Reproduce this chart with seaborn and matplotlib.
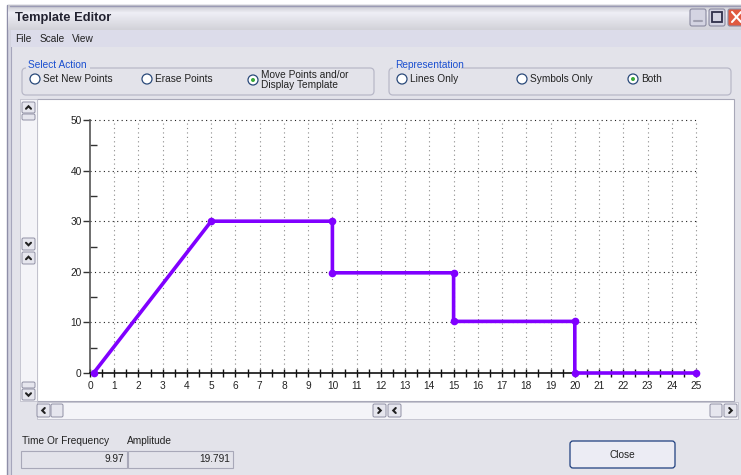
import numpy as np
import pandas as pd
import matplotlib
matplotlib.use("Agg")
import matplotlib.pyplot as plt
from matplotlib.patches import Rectangle, Circle, FancyBboxPatch
from matplotlib.ticker import MultipleLocator
import seaborn as sns

# ---- data ----
time_values = [0.15, 5, 10, 10, 15, 15, 20, 20, 25]
amplitude_values = [0, 30, 30, 19.8, 19.8, 10.2, 10.2, 0, 0]
x_tick_labels = [str(i) for i in range(0, 26)]
y_tick_labels = ["0", "10", "20", "30", "40", "50"]
readout_time = "9.97"
readout_amplitude = "19.791"

sns.set_theme(style="white")
plt.rcParams['font.family'] = ['Liberation Sans', 'DejaVu Sans']

W, H = 741, 475
fig = plt.figure(figsize=(W / 100, H / 100), dpi=100)

# background "window" axes in pixel coordinates
bg = fig.add_axes([0, 0, 1, 1])
bg.set_xlim(0, W)
bg.set_ylim(H, 0)
bg.axis("off")
bg.set_zorder(0)

def rect(x0, y0, x1, y1, fc, ec="none", lw=0.8, z=1):
    bg.add_patch(Rectangle((x0, y0), x1 - x0, y1 - y0, facecolor=fc, edgecolor=ec, lw=lw, zorder=z))

# outer white margin
rect(0, 0, W, H, "white", z=0)
# window body with double left border
rect(7, 5, W + 2, H + 2, "#D6D6E2", ec="#8E8EA8", lw=1.0, z=0.5)
rect(11, 30, W + 2, H + 2, "#E3E3EA", ec="#A6A6BC", lw=0.8, z=0.6)
# title bar gradient
grad = np.concatenate([np.linspace(0.80, 0.96, 8), np.linspace(0.96, 0.85, 17)])
img = np.stack([grad * 0.97, grad * 0.97, grad * 1.0], axis=-1)[:, None, :]
img = np.clip(img, 0, 1)
bg.imshow(np.repeat(img, 2, axis=1), extent=(8, W, 30, 5), aspect="auto", zorder=1)
bg.plot([10, W], [5.5, 5.5], color="#9A9AB4", lw=1, zorder=2)
bg.text(15, 18, "Template Editor", fontsize=9.3, fontweight="bold", color="#222230", va="center", zorder=3)
# title buttons
for x0, fc in [(690, "#D4D4E2"), (709, "#D4D4E2"), (728, "#E05A40")]:
    bg.add_patch(FancyBboxPatch((x0, 9), 16, 17, boxstyle="round,pad=0,rounding_size=2",
                                facecolor=fc, edgecolor="#8A8AA0", lw=0.8, zorder=3))
bg.plot([694, 702], [21, 21], color="#A0A0B0", lw=1.5, zorder=4)
bg.add_patch(Rectangle((712, 12), 10, 10, facecolor="none", edgecolor="#30304A", lw=1.3, zorder=4))
bg.plot([732, 741], [12, 22], color="white", lw=1.5, zorder=4)
bg.plot([732, 741], [22, 12], color="white", lw=1.5, zorder=4)

# menu bar
rect(11, 30, W, 47, "#DCDCEA", z=1)
for x, t in [(15, "File"), (40, "Scale"), (72, "View")]:
    bg.text(x, 38.5, t, fontsize=7.3, color="#222", va="center", zorder=3)

# group boxes
def group(x0, x1, title):
    bg.add_patch(FancyBboxPatch((x0, 68), x1 - x0, 27, boxstyle="round,pad=0,rounding_size=4",
                                facecolor="none", edgecolor="#B8B8C8", lw=0.9, zorder=2))
    tw = len(title) * 4.6
    rect(x0 + 4, 64, x0 + 8 + tw, 72, "#E3E3EA", z=2.5)
    bg.text(x0 + 6, 65, title, fontsize=7.3, color="#1A4FD0", va="center", zorder=3)

group(22, 374, "Select Action")
group(389, 731, "Representation")

def radio(x, y, label, sel=False):
    bg.add_patch(Circle((x, y), 5, facecolor="white", edgecolor="#2A4A7A", lw=0.9, zorder=3))
    if sel:
        bg.add_patch(Circle((x, y), 2, facecolor="#3AAA3A", edgecolor="none", zorder=4))
    bg.text(x + 8, y + 0.5, label, fontsize=7.3, color="#222", va="center", zorder=3, linespacing=1.0)

radio(35, 79, "Set New Points")
radio(147, 79, "Erase Points")
radio(253, 80, "Move Points and/or\nDisplay Template", sel=True)
radio(402, 79, "Lines Only")
radio(522, 79, "Symbols Only")
radio(633, 79, "Both", sel=True)

# plot panel
rect(37, 99, 734, 401, "white", ec="#A8A8B8", lw=0.8, z=1)
# vertical scrollbar
rect(20, 99, 37, 401, "#F4F4F8", ec="#C0C0CC", lw=0.6, z=1.5)

def button(x0, y0, x1, y1, glyph=None):
    bg.add_patch(FancyBboxPatch((x0, y0), x1 - x0, y1 - y0, boxstyle="round,pad=0,rounding_size=1.5",
                                facecolor="#E6E6EE", edgecolor="#9090A4", lw=0.7, zorder=3))
    if glyph:
        cx, cy = (x0 + x1) / 2, (y0 + y1) / 2
        d = 2.5
        if glyph == "up":
            xs, ys = [cx - d, cx, cx + d], [cy + d / 2, cy - d / 2, cy + d / 2]
        elif glyph == "down":
            xs, ys = [cx - d, cx, cx + d], [cy - d / 2, cy + d / 2, cy - d / 2]
        elif glyph == "left":
            xs, ys = [cx + d / 2, cx - d / 2, cx + d / 2], [cy - d, cy, cy + d]
        else:
            xs, ys = [cx - d / 2, cx + d / 2, cx - d / 2], [cy - d, cy, cy + d]
        bg.plot(xs, ys, color="#222", lw=1.5, zorder=4, solid_joinstyle="miter")

button(22, 102, 35, 113, "up")
button(22, 114, 35, 120)
button(22, 238, 35, 250, "down")
button(22, 252, 35, 264, "up")
button(22, 382, 35, 388)
button(22, 389, 35, 400, "down")
# horizontal scrollbar
rect(37, 402, 738, 419, "#F4F4F8", ec="#C0C0CC", lw=0.6, z=1.5)
button(37, 404, 50, 417, "left")
button(51, 404, 63, 417)
button(373, 404, 386, 417, "right")
button(388, 404, 401, 417, "left")
button(710, 404, 722, 417)
button(724, 404, 737, 417, "right")

# bottom readouts
bg.text(22, 441, "Time Or Frequency", fontsize=7.3, color="#222", va="center", zorder=3)
bg.text(127, 441, "Amplitude", fontsize=7.3, color="#222", va="center", zorder=3)
rect(21, 451, 127, 468, "#E3E3EA", ec="#A8A8B8", lw=0.8, z=2)
rect(128, 451, 233, 468, "#E3E3EA", ec="#A8A8B8", lw=0.8, z=2)
bg.text(124, 459.5, readout_time, fontsize=7.3, color="#222", va="center", ha="right", zorder=3)
bg.text(230, 459.5, readout_amplitude, fontsize=7.3, color="#222", va="center", ha="right", zorder=3)
bg.add_patch(FancyBboxPatch((570, 441), 105, 27, boxstyle="round,pad=0,rounding_size=3",
                            facecolor="#ECECF4", edgecolor="#1F3F7F", lw=0.9, zorder=2))
bg.text(622.5, 455, "Close", fontsize=7.3, color="#222", va="center", ha="center", zorder=3)

# ---- main chart ----
x0p, x1p, y0p, y1p = 90, 696, 373, 120
ax = fig.add_axes([x0p / W, 1 - y0p / H, (x1p - x0p) / W, (y0p - y1p) / H])
ax.set_zorder(5)
ax.patch.set_alpha(0)

df = pd.DataFrame({"time": time_values, "amplitude": amplitude_values})
sns.lineplot(data=df, x="time", y="amplitude", sort=False, estimator=None, ax=ax,
             color="#8000FF", lw=2.6, marker="o", markersize=5.5, markeredgewidth=0,
             clip_on=False, zorder=6)

ax.set_xlim(0, 25)
ax.set_ylim(0, 50)
ax.xaxis.set_major_locator(MultipleLocator(1))
ax.xaxis.set_minor_locator(MultipleLocator(0.5))
ax.yaxis.set_major_locator(MultipleLocator(10))
ax.yaxis.set_minor_locator(MultipleLocator(5))
ax.set_xticks(range(0, 26))
ax.set_xticklabels(x_tick_labels)
ax.set_yticks([0, 10, 20, 30, 40, 50])
ax.set_yticklabels(y_tick_labels)
ax.set_xlabel("")
ax.set_ylabel("")

for s in ["top", "right"]:
    ax.spines[s].set_visible(False)
ax.spines["left"].set_color("#555555")
ax.spines["left"].set_linewidth(1.2)
ax.spines["bottom"].set_color("#111111")
ax.spines["bottom"].set_linewidth(1.2)

ax.tick_params(axis="x", which="both", direction="inout", length=6, width=1, color="#111",
               labelsize=7.3, labelcolor="#222", pad=3, bottom=True)
ax.tick_params(axis="y", which="major", direction="out", length=5, width=1, color="#333",
               labelsize=7.3, labelcolor="#222", pad=1, left=True)
ax.tick_params(axis="y", which="minor", direction="in", length=5, width=1, color="#333", left=True)

ax.grid(False)
for xv in range(1, 26):
    ax.plot([xv, xv], [0, 50], color="#8A8A8A", lw=0.8, ls=(0, (1, 3)), zorder=1, clip_on=False)
for yv in range(10, 51, 10):
    ax.plot([0, 25], [yv, yv], color="#222222", lw=0.8, ls=(0, (1, 3)), zorder=1, clip_on=False)

fig.savefig("out.png", dpi=100)
